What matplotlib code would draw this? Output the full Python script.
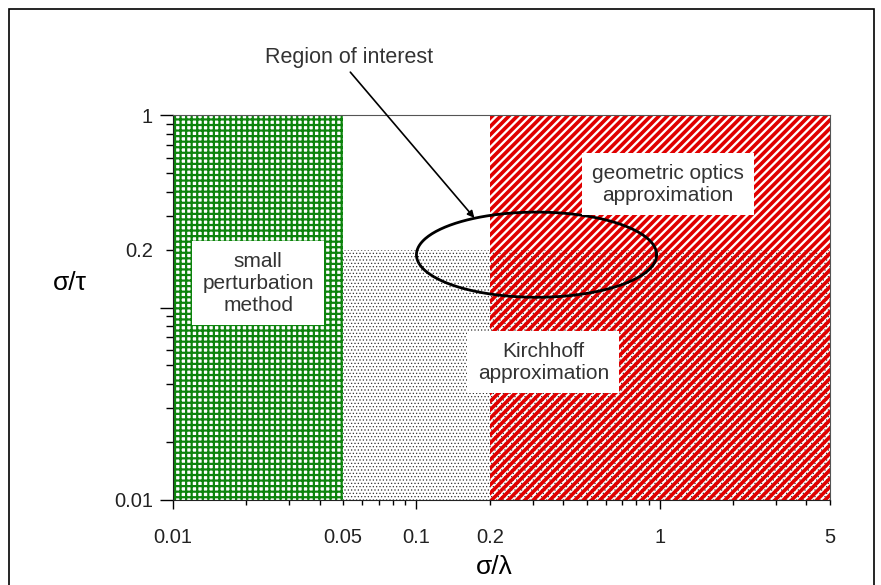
import numpy as np
import matplotlib
matplotlib.use("Agg")
import matplotlib.pyplot as plt
from matplotlib.patches import Rectangle

plt.rcParams['font.family'] = ['Liberation Sans', 'DejaVu Sans']

# regiones (limites en sigma/lambda y sigma/tau)
spm_x = [0.01, 0.05]
spm_y = [0.01, 1]
kirch_x = [0.05, 5]
kirch_y = [0.01, 0.2]
geo_x = [0.2, 5]
geo_y = [0.01, 1]

# elipse "region of interest" (limites en datos)
elip_x = [0.10, 0.97]
elip_y = [0.113, 0.313]
flecha_ini = (0.0535, 1.67)
flecha_fin = (0.173, 0.292)

xticks_may = [0.01, 0.1, 1]
xlabels_may = ['0.01', '0.1', '1']
xticks_min = [0.02, 0.03, 0.04, 0.05, 0.06, 0.07, 0.08, 0.09,
              0.2, 0.3, 0.4, 0.5, 0.6, 0.7, 0.8, 0.9, 2, 3, 4, 5]
xlabels_min = ['', '', '', '0.05', '', '', '', '',
               '0.2', '', '', '', '', '', '', '', '', '', '', '5']
yticks_may = [0.01, 0.1, 1]
ylabels_may = ['0.01', '', '1']
yticks_min = [0.02, 0.03, 0.04, 0.05, 0.06, 0.07, 0.08, 0.09,
              0.2, 0.3, 0.4, 0.5, 0.6, 0.7, 0.8, 0.9]
ylabels_min = ['', '', '', '', '', '', '', '',
               '0.2', '', '', '', '', '', '', '']

fig = plt.figure(figsize=(8.81, 5.85), dpi=100)
ax = fig.add_axes([0.1964, 0.1453, 0.7457, 0.6581])
ax.set_xscale('log')
ax.set_yscale('log')
ax.set_xlim(0.01, 5)
ax.set_ylim(0.01, 1)

# small perturbation (rejilla verde)
with plt.rc_context({'hatch.linewidth': 1.6}):
    ax.fill_between(spm_x, spm_y[0], spm_y[1], facecolor='none',
                    edgecolor='#0d840d', hatch='+++', linewidth=0)
# Kirchhoff (puntos)
with plt.rc_context({'hatch.linewidth': 0.5}):
    ax.fill_between(kirch_x, kirch_y[0], kirch_y[1], facecolor='none',
                    edgecolor='#333333', hatch='.....', linewidth=0)
# geometric optics (rayado rojo)
with plt.rc_context({'hatch.linewidth': 2.6}):
    ax.fill_between(geo_x, geo_y[0], geo_y[1], facecolor='none',
                    edgecolor='#e00000', hatch='////', linewidth=0)

# elipse en espacio log
t = np.linspace(0, 2 * np.pi, 300)
lx = np.log10(elip_x)
ly = np.log10(elip_y)
cx, rx = lx.mean(), (lx[1] - lx[0]) / 2
cy, ry = ly.mean(), (ly[1] - ly[0]) / 2
ax.plot(10 ** (cx + rx * np.cos(t)), 10 ** (cy + ry * np.sin(t)),
        color='black', lw=2)

ax.annotate('', xy=flecha_fin, xytext=flecha_ini, annotation_clip=False,
            arrowprops=dict(arrowstyle='-|>', color='black', lw=1.2,
                            mutation_scale=10, shrinkA=0, shrinkB=0))
ax.text(0.0528, 2.0, 'Region of interest', ha='center', va='center',
        fontsize=15.5, color='#333333', clip_on=False)

caja = dict(boxstyle='square,pad=0.5', facecolor='white', edgecolor='none')
ax.text(0.0224, 0.134, 'small\nperturbation\nmethod', ha='center', va='center',
        fontsize=15, color='#333333', linespacing=1.2, bbox=caja)
ax.text(1.08, 0.438, 'geometric optics\napproximation', ha='center', va='center',
        fontsize=15, color='#333333', linespacing=1.2, bbox=caja)
ax.text(0.332, 0.0521, 'Kirchhoff\napproximation', ha='center', va='center',
        fontsize=15, color='#333333', linespacing=1.2, bbox=caja)

ax.set_xticks(xticks_may, xlabels_may)
ax.set_xticks(xticks_min, xlabels_min, minor=True)
ax.set_yticks(yticks_may, ylabels_may)
ax.set_yticks(yticks_min, ylabels_min, minor=True)
ax.tick_params(which='both', direction='out', width=1, labelsize=14.5,
               labelcolor='#222222')
ax.tick_params(axis='x', which='major', length=6.5, pad=14)
ax.tick_params(axis='x', which='minor', length=3.5, pad=17)
ax.tick_params(axis='y', which='major', length=9.4, pad=5)
ax.tick_params(axis='y', which='minor', length=5, pad=9.4)

for s in ['top', 'right']:
    ax.spines[s].set_color('#555555')
for s in ['left', 'bottom']:
    ax.spines[s].set_color('#222222')

ax.set_xlabel('σ/λ', fontsize=19, va='center')
ax.xaxis.set_label_coords(0.489, -0.174)
ax.set_ylabel('σ/τ', fontsize=19, rotation=0, va='center', ha='center')
ax.yaxis.set_label_coords(-0.157, 0.564)

# marco de la figura
fig.patches.append(Rectangle((9 / 881, -0.1), 865 / 881, 1.1 - 9 / 585,
                             transform=fig.transFigure, fill=False,
                             edgecolor='black', lw=1.2))

fig.savefig('out.png', dpi=100)
